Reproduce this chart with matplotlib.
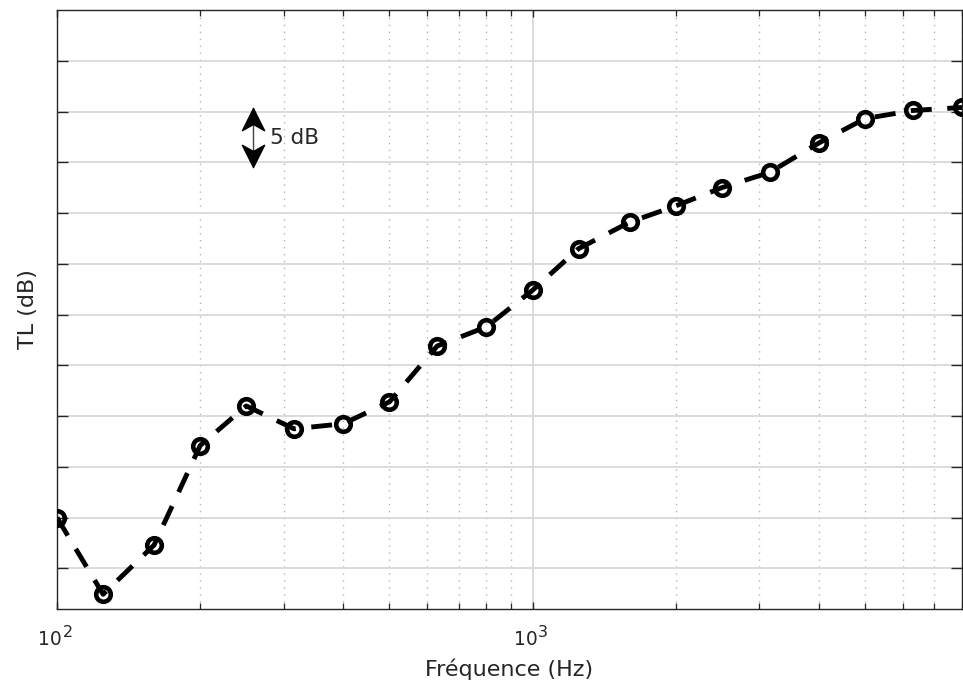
import matplotlib
matplotlib.use("Agg")
import matplotlib.pyplot as plt
from matplotlib.path import Path
from matplotlib.ticker import LogLocator, NullFormatter, FixedLocator

plt.rcParams['font.family'] = ['DejaVu Sans']

# Third-octave band centre frequencies (Hz) and transmission loss (dB)
freqs = [100, 125, 160, 200, 250, 315, 400, 500, 630, 800, 1000,
         1250, 1600, 2000, 2500, 3150, 4000, 5000, 6300, 8000]
tl_db = [20.0, 12.45, 17.3, 27.1, 31.0, 28.75, 29.25, 31.4, 36.9, 38.8, 42.4,
         46.5, 49.1, 50.7, 52.5, 54.0, 56.9, 59.3, 60.1, 60.4]

y_ticks = [15, 20, 25, 30, 35, 40, 45, 50, 55, 60, 65]
x_major = [100, 1000]
x_exponents = ['2', '3']
scale_label = '5 dB'
scale_freq = 258
scale_from, scale_to = 54.5, 60.35

axis_col = '#262626'

fig = plt.figure(figsize=(9.63, 6.88), dpi=100)
ax = fig.add_axes([0.0592, 0.1148, 0.9398, 0.8707])

ax.plot(freqs, tl_db, color='black', linestyle=(0, (4.3, 3.2)), linewidth=3.5,
        marker='o', markersize=10.5, markerfacecolor='none',
        markeredgecolor='black', markeredgewidth=3.3, zorder=3)

ax.set_xscale('log')
ax.set_xlim(100, 8000)
ax.set_ylim(11, 70)

ax.xaxis.set_major_locator(FixedLocator(x_major))
ax.xaxis.set_major_formatter(NullFormatter())
ax.xaxis.set_minor_locator(LogLocator(base=10, subs=range(2, 10), numticks=20))
ax.xaxis.set_minor_formatter(NullFormatter())
ax.set_yticks(y_ticks)
ax.set_yticklabels([])

ax.grid(which='major', axis='both', color='#d6d6d6', linewidth=1.2, linestyle='-')
ax.grid(which='minor', axis='x', color='#b4b4b4', linewidth=1.0, linestyle=(0, (1, 4)))
ax.set_axisbelow(True)

ax.tick_params(which='both', direction='in', top=True, right=True,
               color=axis_col, labelcolor=axis_col)
ax.tick_params(which='major', axis='y', length=8, width=1.0)
ax.tick_params(which='major', axis='x', length=5, width=1.0)
ax.tick_params(which='minor', axis='x', length=4, width=0.9)

for sp in ax.spines.values():
    sp.set_color(axis_col)
    sp.set_linewidth(1.0)

# Decade labels written as base and raised exponent
for f, e in zip(x_major, x_exponents):
    ax.annotate('10', xy=(f, 0), xycoords=('data', 'axes fraction'),
                xytext=(3.6, -25.9), textcoords='offset points',
                ha='right', va='baseline', fontsize=13.5, color=axis_col)
    ax.annotate(e, xy=(f, 0), xycoords=('data', 'axes fraction'),
                xytext=(3.9, -20.2), textcoords='offset points',
                ha='left', va='baseline', fontsize=11.5, color=axis_col)

ax.set_xlabel('Fréquence (Hz)', fontsize=16, color=axis_col, labelpad=32)
ax.set_ylabel('TL (dB)', fontsize=16, color=axis_col, labelpad=10)

# 5 dB scale indicator: thin shaft with barbed heads at both ends
head_up = Path([(0, 0), (0.5, -1), (0, -0.72), (-0.5, -1), (0, 0)],
               [Path.MOVETO, Path.LINETO, Path.LINETO, Path.LINETO, Path.CLOSEPOLY])
head_down = Path([(0, 0), (0.5, 1), (0, 0.72), (-0.5, 1), (0, 0)],
                 [Path.MOVETO, Path.LINETO, Path.LINETO, Path.LINETO, Path.CLOSEPOLY])
ax.plot([scale_freq, scale_freq], [scale_from, scale_to], color='#444444',
        linewidth=1.0, zorder=4)
ax.plot([scale_freq], [scale_to], marker=head_up, markersize=32,
        color='black', linestyle='none', zorder=5)
ax.plot([scale_freq], [scale_from], marker=head_down, markersize=32,
        color='black', linestyle='none', zorder=5)
ax.text(281, (scale_from + scale_to) / 2, scale_label, fontsize=15.5,
        color=axis_col, va='center', ha='left')

fig.savefig('out.png', dpi=100)
